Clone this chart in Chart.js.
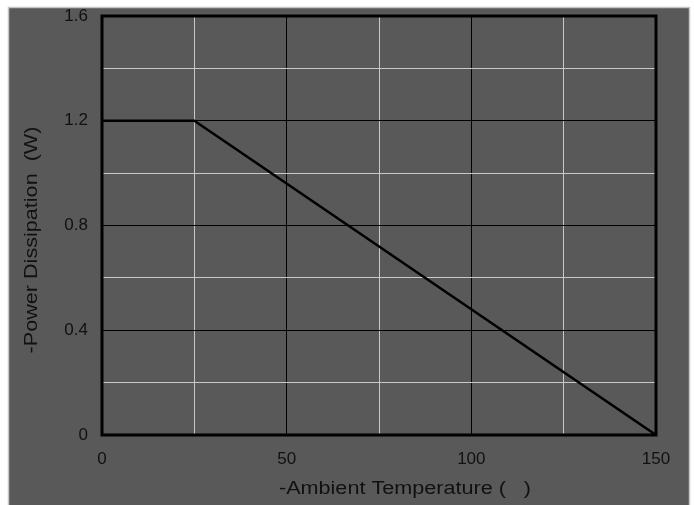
<!DOCTYPE html>
<html>
<head>
<meta charset="utf-8">
<script src="https://cdn.jsdelivr.net/npm/chart.js@4/dist/chart.umd.min.js"></script>
<style>
html,body{margin:0;padding:0;background:#fff;}
#wrap{width:694px;height:505px;position:relative;}
</style>
</head>
<body>
<div id="wrap"><canvas id="c" width="694" height="505"></canvas></div>
<script>
const temperatures = [0, 25, 150];
const powerValues = [1.2, 1.2, 0];
const xTickLabels = ['0', '50', '100', '150'];
const yTickLabels = ['0', '0.4', '0.8', '1.2', '1.6'];
const xTitle = '-Ambient Temperature (   )';
const yTitle = '-Power Dissipation  (W)';

const FONT = '"Liberation Sans", Arial, sans-serif';
const TEXT = '#111111';

const bgPlugin = {
  id: 'bg',
  beforeDraw(chart) {
    const ctx = chart.ctx;
    ctx.save();
    ctx.fillStyle = '#ffffff';
    ctx.fillRect(0, 0, chart.width, chart.height);
    ctx.fillStyle = '#595959';
    ctx.fillRect(8, 7, 682, 500);
    ctx.strokeStyle = '#c4c4c4';
    ctx.lineWidth = 1.5;
    ctx.beginPath();
    ctx.moveTo(8.5, 506); ctx.lineTo(8.5, 7.5); ctx.lineTo(689.5, 7.5); ctx.lineTo(689.5, 506);
    ctx.stroke();
    ctx.restore();
  },
  afterDatasetsDraw(chart) {
    const ctx = chart.ctx;
    const a = chart.chartArea;
    ctx.save();
    ctx.strokeStyle = '#000000';
    ctx.lineWidth = 3;
    ctx.strokeRect(a.left, a.top, a.right - a.left, a.bottom - a.top);
    ctx.restore();
  },
  afterDraw(chart) {
    const ctx = chart.ctx;
    ctx.save();
    ctx.fillStyle = TEXT;
    ctx.font = '18px ' + FONT;
    ctx.textAlign = 'center';
    ctx.textBaseline = 'middle';
    ctx.save();
    ctx.translate(405, 489);
    ctx.scale(1.2, 1);
    ctx.fillText(xTitle, 0, 0);
    ctx.restore();
    ctx.save();
    ctx.translate(32, 240);
    ctx.rotate(-Math.PI / 2);
    ctx.scale(1.2, 1);
    ctx.fillText(yTitle, 0, 0);
    ctx.restore();
    ctx.restore();
  }
};

function labelFor(list, v) {
  const s = String(Math.round(v * 10) / 10);
  return list.includes(s) ? s : '';
}

new Chart(document.getElementById('c'), {
  type: 'line',
  data: {
    datasets: [{
      data: temperatures.map((t, i) => ({ x: t, y: powerValues[i] })),
      borderColor: '#000000',
      borderWidth: 2.5,
      pointRadius: 0,
      tension: 0,
      fill: false
    }]
  },
  options: {
    responsive: false,
    animation: false,
    devicePixelRatio: 1,
    layout: { padding: { left: 8, top: 16, right: 38, bottom: 0 } },
    plugins: { legend: { display: false }, tooltip: { enabled: false } },
    scales: {
      x: {
        type: 'linear',
        min: 0, max: 150,
        afterFit(s) { s.height = 70; s.paddingLeft = 0; s.paddingRight = 0; },
        ticks: {
          stepSize: 25,
          autoSkip: false,
          maxRotation: 0,
          padding: 14,
          color: TEXT,
          font: { family: FONT, size: 17 },
          callback: v => labelFor(xTickLabels, v)
        },
        grid: {
          drawTicks: false,
          lineWidth: 1,
          color: c => (c.tick && Math.round(c.tick.value) % 50 === 0) ? '#000000' : '#c8c8c8'
        },
        border: { display: false }
      },
      y: {
        type: 'linear',
        min: 0, max: 1.6,
        afterFit(s) { s.width = 94; s.paddingTop = 0; s.paddingBottom = 0; },
        ticks: {
          stepSize: 0.2,
          autoSkip: false,
          padding: 14,
          color: TEXT,
          font: { family: FONT, size: 17 },
          callback: v => labelFor(yTickLabels, v)
        },
        grid: {
          drawTicks: false,
          lineWidth: 1,
          color: c => (c.tick && Math.round(c.tick.value * 10) % 4 === 0) ? '#000000' : '#c8c8c8'
        },
        border: { display: false }
      }
    }
  },
  plugins: [bgPlugin]
});
</script>
</body>
</html>
